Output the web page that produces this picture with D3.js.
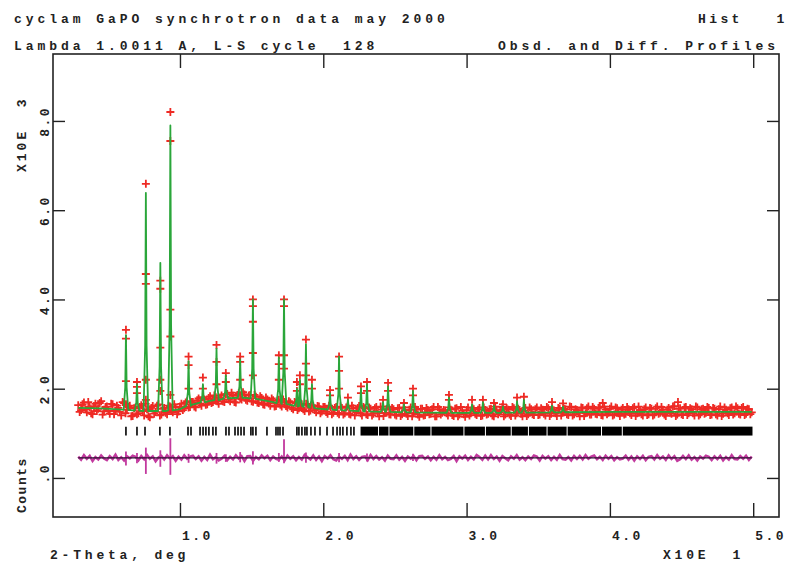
<!DOCTYPE html>
<html><head><meta charset="utf-8">
<script src="https://cdn.jsdelivr.net/npm/d3@7/dist/d3.min.js"></script>
<style>body{margin:0;background:#fff}svg{display:block}</style>
</head><body><svg id="c" width="791" height="565"></svg>
<script>
// ---------------- DATA ----------------
// observed profile on a uniform 2-theta grid (degrees), counts
const obsStart = 2.9, obsStep = 0.2;
// points at obsStart + i*obsStep
const obsCounts = [
1630,1520,1690,1470,1590,1430,1660,1550,1720,1490,
1600,1440,1650,1500,1570,1400,1680,1530,1620,1390,
1580,1450,1630,1400,1540,1360,1610,1480,1650,1420,
1570,1430,1600,1470,1580,1490,1660,1560,1720,1590,
1700,1580,1780,1620,1760,1650,1830,1700,1810,1660,
1850,1700,1880,1720,1840,1690,1900,1760,1870,1730,
1860,1710,1820,1680,1790,1640,1760,1620,1740,1610,
1750,1600,1700,1580,1690,1540,1680,1560,1650,1500,
1640,1510,1620,1470,1600,1490,1590,1440,1580,1460,
1590,1430,1570,1450,1600,1420,1560,1470,1610,1400,
1560,1410,1550,1440,1590,1380,1530,1460,1600,1420,
1540,1400,1570,1430,1520,1390,1580,1450,1530,1370,
1550,1410,1520,1440,1590,1380,1540,1460,1510,1400,
1530,1390,1560,1420,1510,1370,1580,1450,1540,1410,
1570,1400,1520,1440,1550,1380,1510,1470,1590,1420,
1530,1390,1560,1450,1520,1380,1570,1430,1540,1410,
1580,1420,1530,1400,1560,1440,1510,1390,1550,1460,
1540,1410,1590,1430,1520,1380,1570,1450,1600,1420,
1550,1430,1580,1400,1530,1460,1600,1420,1560,1390,
1570,1440,1540,1410,1590,1450,1520,1400,1580,1430,
1550,1420,1600,1460,1530,1390,1570,1440,1610,1420,
1560,1410,1590,1450,1540,1400,1580,1430,1550,1460,
1570,1420,1550,1400,1600,1440,1530,1410,1580,1450,
1560,1420,1590,1440,1540,1470
];
// points half-way between, at obsStart + obsStep/2 + i*obsStep
const obsCountsMid = [
1480,1650,1540,1700,1450,1610,1500,1680,1420,1590,
1500,1660,1430,1620,1480,1700,1450,1590,1380,1560,
1430,1590,1500,1660,1380,1570,1440,1620,1400,1550,
1460,1620,1500,1650,1430,1600,1520,1690,1580,1700,
1600,1740,1660,1810,1640,1790,1680,1850,1720,1800,
1720,1880,1760,1910,1700,1860,1780,1920,1750,1850,
1720,1860,1690,1830,1650,1800,1670,1780,1600,1730,
1640,1760,1610,1720,1570,1700,1520,1650,1540,1660,
1490,1630,1520,1610,1450,1590,1480,1620,1430,1570,
1460,1600,1420,1580,1440,1620,1400,1570,1450,1590,
1430,1580,1400,1560,1450,1600,1390,1540,1430,1570,
1420,1560,1390,1580,1440,1530,1380,1590,1420,1550,
1400,1570,1430,1540,1380,1590,1420,1520,1450,1580,
1410,1550,1380,1590,1430,1520,1400,1570,1440,1530,
1390,1580,1420,1540,1400,1600,1430,1520,1380,1560,
1420,1590,1400,1550,1440,1510,1390,1580,1430,1540,
1410,1560,1440,1590,1390,1530,1450,1570,1400,1550,
1430,1600,1400,1540,1460,1580,1390,1560,1420,1590,
1440,1570,1410,1600,1430,1550,1400,1580,1450,1530,
1420,1590,1450,1560,1390,1600,1430,1540,1410,1570,
1400,1560,1440,1590,1420,1530,1460,1600,1390,1550,
1430,1580,1410,1560,1450,1600,1400,1540,1440,1590,
1410,1570,1430,1540,1390,1580,1450,1560,1420,1600,
1440,1570,1410,1550,1430
];
// observed points on the peak flanks and tops
const peakObsDeg = [
6.23,6.23,6.23,6.23, 7.0,7.0,7.0, 7.62,7.62,7.62,7.62,7.62,
8.63,8.63,8.63,8.63,8.63, 9.33,9.33,9.33,9.33,9.33,
10.6,10.6,10.6, 11.6,11.6, 12.55,12.55,12.55, 13.2,13.2,
14.2,14.2,14.2, 15.09,15.09,15.09,15.09,15.09, 16.9,16.9,16.9,
17.26,17.26,17.26,17.26, 18.16,18.16, 18.37,18.37, 18.79,18.79,18.79,
19.21,19.21, 20.47,20.47, 21.1,21.1,21.1, 21.72, 22.63,22.63, 23.05,23.05,
24.17, 24.52,24.52, 25.63, 26.26,26.26, 28.77,28.77, 30.38, 31.14, 31.91,
32.54, 33.52, 34.0, 35.96, 36.73, 39.5, 44.75
];
const peakObsCounts = [
3320,3120,2170,1650, 2150,2040,1900, 6590,4570,4350,2200,1750,
4420,4240,2920,2200,1950, 8200,7550,3770,3170,1860,
2720,2530,2000, 2250,2000, 2980,2600,2100, 2350,2150,
2720,2600,2200, 4000,3850,3500,2800,2300, 2750,2550,2200,
4000,3850,2750,2450, 2150,1950, 2300,2100, 3100,2560,2300,
2200,2000, 1970,1850, 2720,2400,2000, 1800, 2050,1900, 2150,1950,
1750, 2130,1950, 1680, 2000,1850, 1860,1750, 1750, 1750, 1680,
1650, 1800, 1820, 1700, 1670, 1680, 1700
];
// calculated profile: background knots and reflection peaks
const bgDeg =    [2.9, 4.5, 6.0, 7.5, 9.0, 10.0,10.8,12.0,13.5,14.5,15.5,16.5,18.0,19.5,21.0,23.0,26.0,29.0,32.0,36.0,40.0,49.9];
const bgCounts = [1570,1560,1530,1500,1500,1540,1640,1720,1790,1800,1760,1700,1620,1560,1520,1490,1470,1460,1460,1470,1480,1480];
const peakDeg = [6.23,7.0,7.62,8.63,9.33,10.6,11.6,12.55,13.2,14.2,15.09,16.9,17.26,18.16,18.37,18.79,19.21,20.47,21.1,21.72,22.63,23.05,24.17,24.52,25.63,26.26,28.77,30.38,31.14,31.91,32.54,33.52,34.0,35.96,36.73];
const peakTop = [3200,2100,6390,4820,7900,2620,2100,2900,2300,2650,4000,2700,4000,2000,2200,3000,2100,1900,2720,1750,2000,2100,1700,2050,1650,1950,1800,1650,1700,1620,1600,1720,1750,1620,1600];
// difference curve (obs - calc) on the same grid, drawn with an offset
const diffOffset = 450;
const diffCounts = [
30,-40,60,-20,45,-70,20,-35,55,-15,
-50,40,-25,70,-45,15,-60,35,-10,50,
25,-55,40,-30,65,-20,35,-75,10,45,
-35,60,-15,40,-65,25,-40,55,-20,30,
50,-25,35,-60,20,-45,70,-30,15,-55,
-20,45,-50,25,-35,60,-15,40,-70,35,
40,-65,20,-30,55,-10,45,-50,30,-25,
-45,30,-60,50,-20,35,-55,20,-40,65,
15,-35,55,-45,30,-70,40,-15,60,-30,
-60,25,-20,45,-50,70,-25,35,-45,20,
35,-50,65,-25,40,-35,15,-60,50,-20,
-30,55,-40,20,-65,30,-15,45,-55,40,
45,-20,30,-55,25,-40,60,-30,20,-50,
-25,40,-70,35,-15,50,-45,25,-35,65,
20,-45,50,-35,60,-25,30,-65,40,-10,
-55,35,-20,60,-40,15,-50,30,-25,55,
30,-60,45,-15,35,-50,25,-40,65,-30,
-40,20,-55,40,-25,45,-35,60,-20,30,
55,-30,25,-45,50,-20,40,-55,15,-35,
-15,50,-40,30,-60,35,-25,45,-50,25,
40,-35,60,-20,30,-45,55,-25,35,-65,
-30,45,-25,55,-40,20,-60,30,-15,50,
25,-50,35,-30,45,-55,20,-40,60,-25,
-35,40,-20,50,-45,30
];
const diffSpikeDeg  = [6.23,7.0,7.62,8.63,9.33,10.6,12.55,13.2,14.2,15.09,16.9,17.26,18.79,21.1,23.05,26.26];
const diffSpikeLow  = [-170,-120,-360,-200,-380,-110,-130,-90,-100,-150,-90,-120,-110,-100,-80,-70];
const diffSpikeHigh = [140,110,230,170,440,90,110,80,130,150,110,420,120,110,100,90];
// reflection positions (isolated) and ranges where reflections overlap
const reflDeg = [6.23,7.0,7.56,8.6,9.3,10.56,10.77,11.4,11.61,11.81,12.02,12.3,12.51,13.21,13.42,13.84,14.05,14.26,14.47,14.95,15.09,15.3,16.07,16.7,16.84,16.98,17.19,18.16,18.3,18.51,18.72,18.86,19.14,19.42,19.77,20.26,20.68,20.96,21.17,21.37,21.65,21.93,22.14];
const reflBandStart = [22.6, 23.89,24.62,26.35,27.55,29.85,31.35,33.15,34.35,35.65,37.05,39.45,40.9];
const reflBandEnd   = [23.82,24.55,26.28,27.48,29.78,31.28,33.08,34.28,35.58,36.98,39.38,40.83,49.95];
const reflTopCounts = 1150, reflBottomCounts = 950;
// axes
const xTickValues = [10,20,30,40,50];
const xTickLabels = ["1.0","2.0","3.0","4.0","5.0"];
const yTickValues = [0,2000,4000,6000,8000];
const yTickLabels = [".0","2.0","4.0","6.0","8.0"];
const header1 = "cyclam GaPO synchrotron data may 2000";
const header1R = "Hist   1";
const header2 = "Lambda 1.0011 A, L-S cycle  128";
const header2R = "Obsd. and Diff. Profiles";
const xTitle = "2-Theta, deg", xScaleNote = "X10E  1";
const yTitle = "Counts", yScaleNote = "X10E  3";

// ---------------- DRAW ----------------
const svg = d3.select("#c");
const font = "'Liberation Mono','DejaVu Sans Mono',monospace";
const L = 53, R = 779, T = 54, B = 517;
const x = d3.scaleLinear().domain([1.14, 51.8]).range([L, R]);
const y = d3.scaleLinear().domain([-875, 9500]).range([B, T]);

const red = "#ee2a24", green = "#2aa63a", magenta = "#c2399e";

const obs = obsCounts.map((c, i) => [obsStart + i * obsStep, c])
  .concat(obsCountsMid.map((c, i) => [obsStart + obsStep / 2 + i * obsStep, c]));
const bgScale = d3.scaleLinear().domain(bgDeg).range(bgCounts);

// calculated curve
let calc = bgDeg.map((d, i) => [d, bgCounts[i]]).filter(p => !peakDeg.some(pk => Math.abs(pk - p[0]) < 0.2));
peakDeg.forEach((p, i) => {
  const b = bgScale(p), t = peakTop[i];
  calc.push([p - 0.16, b], [p - 0.05, b + 0.3 * (t - b)], [p, t], [p + 0.05, b + 0.3 * (t - b)], [p + 0.16, b]);
});
calc.sort((a, b) => a[0] - b[0]);

const line = d3.line().x(d => x(d[0])).y(d => y(d[1]));
const plus = "M-4,0H4M0,-4V4";

// peak observed markers (below calc line)
svg.append("g").selectAll("path").data(peakObsDeg).join("path")
  .attr("d", plus).attr("transform", (d, i) => `translate(${x(d)},${y(peakObsCounts[i])})`)
  .attr("stroke", red).attr("stroke-width", 1.8).attr("fill", "none");

// observed grid markers
svg.append("g").selectAll("path").data(obs).join("path")
  .attr("d", plus).attr("transform", d => `translate(${x(d[0])},${y(d[1])})`)
  .attr("stroke", red).attr("stroke-width", 1.8).attr("fill", "none");

// calc line
svg.append("path").datum(calc).attr("d", line).attr("fill", "none")
  .attr("stroke", green).attr("stroke-width", 1.8).attr("stroke-linejoin", "round");

// reflection markers
const rg = svg.append("g");
rg.selectAll("line").data(reflDeg).join("line")
  .attr("x1", d => x(d)).attr("x2", d => x(d))
  .attr("y1", y(reflTopCounts)).attr("y2", y(reflBottomCounts))
  .attr("stroke", "#000").attr("stroke-width", 1.6);
rg.selectAll("rect").data(reflBandStart).join("rect")
  .attr("x", d => x(d)).attr("width", (d, i) => x(reflBandEnd[i]) - x(d))
  .attr("y", y(reflTopCounts)).attr("height", y(reflBottomCounts) - y(reflTopCounts))
  .attr("fill", "#000");

// difference curve
const diff = diffCounts.map((c, i) => [obsStart + i * obsStep, c + diffOffset]);
svg.append("path").datum(diff).attr("d", line).attr("fill", "none")
  .attr("stroke", magenta).attr("stroke-width", 2.5);
svg.append("g").selectAll("line").data(diffSpikeDeg).join("line")
  .attr("x1", d => x(d)).attr("x2", d => x(d))
  .attr("y1", (d, i) => y(diffSpikeLow[i] + diffOffset)).attr("y2", (d, i) => y(diffSpikeHigh[i] + diffOffset))
  .attr("stroke", magenta).attr("stroke-width", 1.8);
svg.append("line").attr("x1", x(obsStart)).attr("x2", x(obsStart + (diffCounts.length - 1) * obsStep))
  .attr("y1", y(diffOffset)).attr("y2", y(diffOffset)).attr("stroke", "#2a1030").attr("stroke-width", 1.2);

// frame and ticks
const axStyle = g => { g.select(".domain").remove(); g.selectAll("line").attr("stroke", "#222").attr("stroke-width", 1.4); g.selectAll("text").remove(); };
svg.append("g").attr("transform", `translate(0,${B})`).call(d3.axisBottom(x).tickValues(xTickValues).tickSize(-14)).call(axStyle);
svg.append("g").attr("transform", `translate(0,${T})`).call(d3.axisTop(x).tickValues(xTickValues).tickSize(-14)).call(axStyle);
svg.append("g").attr("transform", `translate(${L},0)`).call(d3.axisLeft(y).tickValues(yTickValues).tickSize(-12)).call(axStyle);
svg.append("g").attr("transform", `translate(${R},0)`).call(d3.axisRight(y).tickValues(yTickValues).tickSize(-12)).call(axStyle);
svg.append("rect").attr("x", L).attr("y", T).attr("width", R - L).attr("height", B - T)
  .attr("fill", "none").attr("stroke", "#222").attr("stroke-width", 1.6);

// text
const txt = (s, tx, ty, ls, extra) => {
  const t = svg.append("text").attr("x", tx).attr("y", ty).text(s)
    .attr("font-family", font).attr("font-size", 13).attr("font-weight", "bold")
    .attr("fill", "#222").attr("letter-spacing", ls).style("white-space", "pre");
  if (extra) extra(t);
  return t;
};
txt(header1, 14, 23, 3.95);
txt(header1R, 698, 23, 3.4);
txt(header2, 14, 50, 3.95);
txt(header2R, 498, 50, 3.9);
xTickValues.forEach((v, i) => txt(xTickLabels[i], x(v) + 2, 540, 2.5));
txt(xTitle, 50, 559, 3.8);
txt(xScaleNote, 663, 559, 3.8);
yTickValues.forEach((v, i) => txt(yTickLabels[i], 0, 0, 2.5, t =>
  t.attr("text-anchor", "end").attr("transform", `translate(49,${y(v) - 15}) rotate(-90)`).attr("x", null).attr("y", null)));
txt(yTitle, 0, 0, 1.5, t => t.attr("transform", "translate(26,513) rotate(-90)").attr("x", null).attr("y", null));
txt(yScaleNote, 0, 0, 3, t => t.attr("transform", "translate(26,172) rotate(-90)").attr("x", null).attr("y", null));
</script></body></html>
